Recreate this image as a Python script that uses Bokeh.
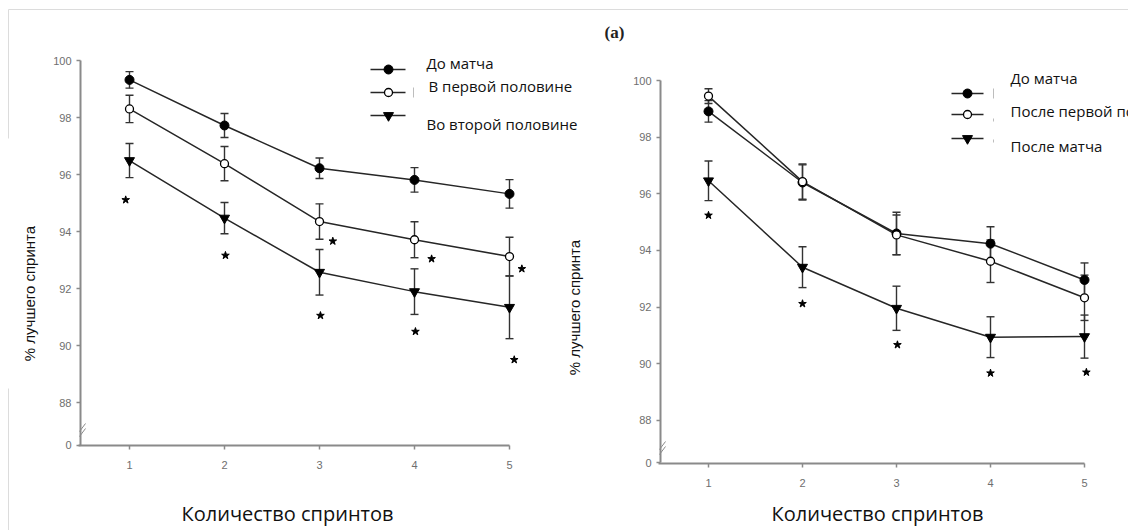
from bokeh.plotting import figure
from bokeh.models import Range1d, FixedTicker, ColumnDataSource, Whisker, TeeHead, LinearAxis
from bokeh.core.properties import value
from bokeh.embed import file_html
from bokeh.resources import INLINE

# ---------------- data ----------------
sprints = [1, 2, 3, 4, 5]
x_tick_labels = ["1", "2", "3", "4", "5"]
y_ticks = [86.5, 88, 90, 92, 94, 96, 98, 100]
y_tick_labels = ["0", "88", "90", "92", "94", "96", "98", "100"]

x_title = "Количество спринтов"
y_title = "% лучшего спринта"

# left panel
left_names = ["До матча", " В первой половине", "Во второй половине"]
left_pre = [99.32, 97.72, 96.22, 95.81, 95.32]
left_pre_err = [0.29, 0.42, 0.36, 0.43, 0.50]
left_first = [98.30, 96.38, 94.35, 93.71, 93.12]
left_first_err = [0.48, 0.60, 0.62, 0.63, 0.68]
left_second = [96.49, 94.47, 92.57, 91.89, 91.34]
left_second_err = [0.60, 0.55, 0.80, 0.80, 1.10]
left_star_x = [0.96, 2.01, 3.01, 4.01, 5.05, 3.14, 4.18, 5.13]
left_star_y = [95.11, 93.16, 91.05, 90.49, 89.50, 93.66, 93.04, 92.69]

# right panel
right_names = ["До матча", "После первой половины", "После матча"]
right_pre = [98.91, 96.40, 94.60, 94.24, 92.96]
right_pre_err = [0.38, 0.62, 0.75, 0.60, 0.60]
right_first = [99.45, 96.43, 94.55, 93.62, 92.33]
right_first_err = [0.26, 0.62, 0.70, 0.75, 0.80]
right_post = [96.46, 93.41, 91.96, 90.94, 90.96]
right_post_err = [0.70, 0.72, 0.78, 0.72, 0.76]
right_star_x = [1.0, 2.0, 3.01, 4.0, 5.02]
right_star_y = [95.24, 92.12, 90.67, 89.67, 89.70]

LINE = "#262626"
AXIS = "#8a8a8a"
ERR = "#333333"
W, H = 1128, 530

# panel geometry in page pixels
g_left = dict(axis_x=80, axis_y=445, x1=129, xstep=95, y100=60, ystep=28.5)
g_right = dict(axis_x=660, axis_y=463, x1=708, xstep=94, y100=80, ystep=28.33)


def conv(g):
    return (lambda px: 1 + (px - g["x1"]) / g["xstep"],
            lambda py: 100 - (py - g["y100"]) / g["ystep"])


lx, ly = conv(g_left)
rx, ry = conv(g_right)

p = figure(width=W, height=H, output_backend="svg", toolbar_location=None,
           min_border_left=0, min_border_right=0, min_border_top=0, min_border_bottom=0,
           x_range=Range1d(lx(0), lx(W)), y_range=Range1d(ly(H), ly(0)))
p.extra_x_ranges = {"rx": Range1d(rx(0), rx(W))}
p.extra_y_ranges = {"ry": Range1d(ry(H), ry(0))}
p.outline_line_color = None
p.grid.visible = False
p.background_fill_color = "white"
p.border_fill_color = "white"

# faint frame lines of the original screenshot crop
p.segment(x0=[lx(8), lx(8), lx(8)], y0=[ly(9), ly(9), ly(388)],
          x1=[lx(W), lx(8), lx(8)], y1=[ly(9), ly(138), ly(H)],
          line_color="#dcdcdc", line_width=1)


def style_axis(ax, is_x):
    ax.axis_line_color = AXIS
    ax.axis_line_width = 2
    ax.major_tick_line_color = AXIS
    ax.major_tick_line_width = 1.5
    ax.major_tick_in = 0
    ax.major_tick_out = 4
    ax.minor_tick_line_color = None
    ax.major_label_text_font = "Liberation Sans"
    ax.major_label_text_font_size = "11px"
    ax.major_label_text_color = "#6e6e6e"
    if is_x:
        ax.ticker = FixedTicker(ticks=sprints)
        ax.major_label_overrides = dict(zip(sprints, x_tick_labels))
        ax.major_label_standoff = 11
    else:
        ax.ticker = FixedTicker(ticks=y_ticks)
        ax.major_label_overrides = dict(zip(y_ticks, y_tick_labels))
        ax.bounds = (y_ticks[0], 100)
        ax.major_label_standoff = 5


def panel(g, fx, fy, xr, yr, first_axes, series, star_x, star_y, names, leg,
          label_pos, extra=None):
    kw = dict(x_range_name=xr, y_range_name=yr)
    if first_axes:
        xa, ya = p.xaxis[0], p.yaxis[0]
    else:
        xa = LinearAxis(**kw)
        ya = LinearAxis(**kw)
        p.add_layout(xa, "below")
        p.add_layout(ya, "left")
    style_axis(xa, True)
    style_axis(ya, False)
    xa.fixed_location = fy(g["axis_y"])
    ya.fixed_location = fx(g["axis_x"])
    xa.bounds = (fx(g["axis_x"] - 2), 5)

    # axis break marks
    yb = fy(g["axis_y"] - 13)
    dx = 3 / g["xstep"]
    dy = 4 / g["ystep"]
    x0 = fx(g["axis_x"] + 2)
    gap = 5 / g["ystep"]
    p.segment(x0=[x0 - dx, x0 - dx], y0=[yb - dy, yb - dy + gap],
              x1=[x0 + dx, x0 + dx], y1=[yb + dy, yb + dy + gap],
              line_color=AXIS, line_width=1, **kw)

    styles = [
        dict(marker="circle", size=9, fill_color="black", line_color="black"),
        dict(marker="circle", size=8, fill_color="white", line_color="black", line_width=1.3),
        dict(marker="inverted_triangle", size=10, fill_color="black", line_color="black"),
    ]

    def head():
        return TeeHead(size=8, line_color=ERR, line_width=1.4)

    for (vals, errs), st in zip(series, styles):
        src = ColumnDataSource(dict(x=sprints, y=vals,
                                    lo=[v - e for v, e in zip(vals, errs)],
                                    hi=[v + e for v, e in zip(vals, errs)]))
        p.add_layout(Whisker(base="x", lower="lo", upper="hi", source=src,
                             line_color=ERR, line_width=1.4,
                             upper_head=head(), lower_head=head(), **kw))
        p.line("x", "y", source=src, line_color=LINE, line_width=1.5, **kw)
    for (vals, errs), st in zip(series, styles):
        p.scatter(sprints, vals, **st, **kw)

    p.scatter(star_x, star_y, marker="star", size=8, fill_color="black",
              line_color="black", **kw)

    # legend
    lx0, lx1, lmx = fx(leg["x0"]), fx(leg["x1"]), fx(leg["xm"])
    for rowy, st in zip(leg["rows"], styles):
        yy = fy(rowy)
        p.segment(x0=[lx0], y0=[yy], x1=[lx1], y1=[yy], line_color=LINE, line_width=1.5, **kw)
        p.scatter([lmx], [yy], **st, **kw)
    for name, (tx, ty) in zip(names, leg["texts"]):
        p.text(x=[fx(tx)], y=[fy(ty)], text=[name], text_font=value("Open Sans"),
               text_font_size="15px", text_color="#111111", text_align="left",
               text_baseline="middle", **kw)
    for (mx, my0, my1) in leg["marks"]:
        p.segment(x0=[fx(mx)], y0=[fy(my0)], x1=[fx(mx)], y1=[fy(my1)],
                  line_color="#bdbdbd", line_width=1, **kw)

    # titles
    tx, ty = label_pos["x"]
    p.text(x=[fx(tx)], y=[fy(ty)], text=[x_title], text_font=value("Open Sans"),
           text_font_size="20px", text_color="#111111",
           text_align="center", text_baseline="middle", **kw)
    yx, yy = label_pos["y"]
    p.text(x=[fx(yx)], y=[fy(yy)], text=[y_title], text_font=value("Liberation Sans"),
           text_font_size="15px", text_color="#111111", angle=1.5708,
           text_align="center", text_baseline="middle", **kw)
    if extra:
        ex, ey, et = extra
        p.text(x=[fx(ex)], y=[fy(ey)], text=[et], text_font=value("Liberation Serif"),
               text_font_style="bold", text_font_size="17px", text_color="#222222",
               text_align="center", text_baseline="middle", **kw)


leg_left = dict(x0=370, x1=405, xm=388, rows=[69, 92, 115],
                texts=[(426, 62), (428, 85), (426, 123)],
                marks=[(413, 87, 97)])
leg_right = dict(x0=951, x1=983, xm=967, rows=[93, 114, 138],
                 texts=[(1010, 77), (1010, 110), (1010, 145)],
                 marks=[(993, 88, 98), (993, 118, 121), (993, 139, 142)])

panel(g_left, lx, ly, "default", "default", True,
      [(left_pre, left_pre_err), (left_first, left_first_err), (left_second, left_second_err)],
      left_star_x, left_star_y, left_names, leg_left,
      dict(x=(287, 513), y=(29, 293)))
panel(g_right, rx, ry, "rx", "ry", False,
      [(right_pre, right_pre_err), (right_first, right_first_err), (right_post, right_post_err)],
      right_star_x, right_star_y, right_names, leg_right,
      dict(x=(877, 513), y=(574, 307)), extra=(614, 32, "(a)"))

open("out.html", "w").write(file_html(p, INLINE))
